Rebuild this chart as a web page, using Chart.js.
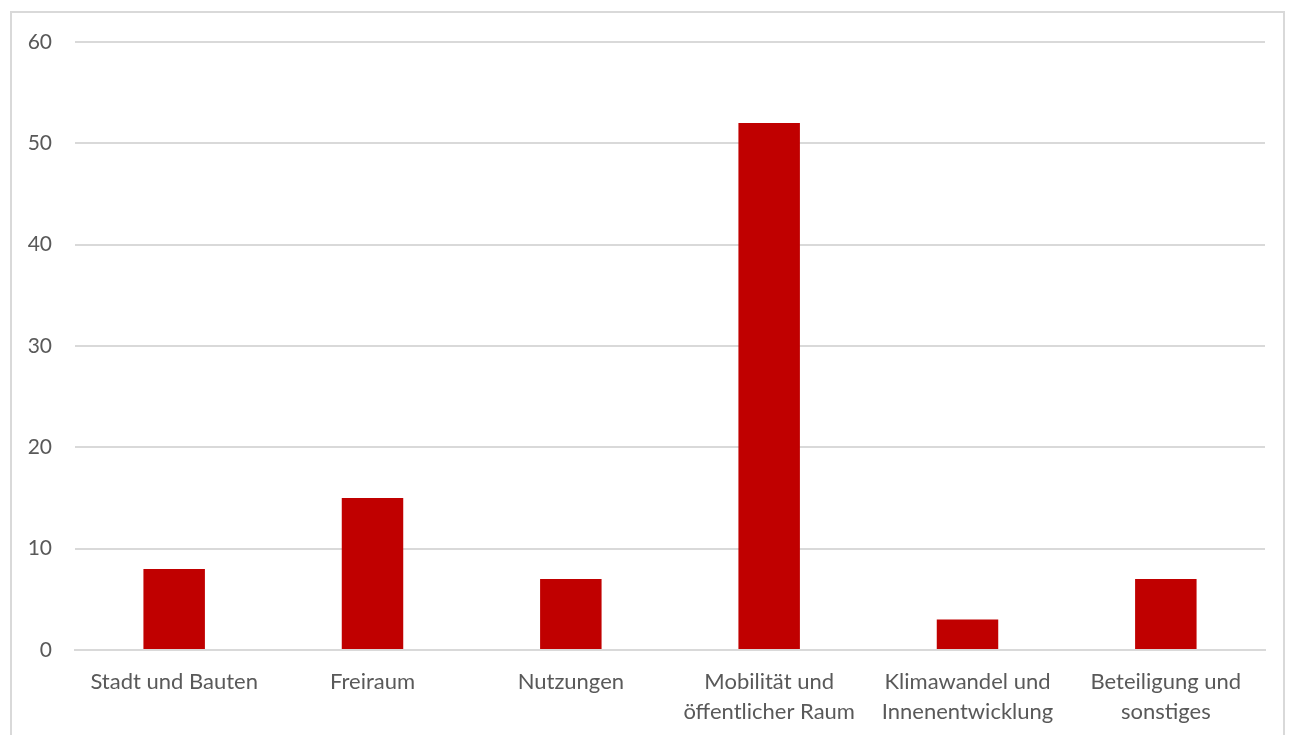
<!DOCTYPE html>
<html>
<head>
<meta charset="utf-8">
<script src="https://cdn.jsdelivr.net/npm/chart.js@4/dist/chart.umd.min.js"></script>
<style>
	html, body { margin: 0; padding: 0; background: #fff; overflow: hidden; }
	#wrap { position: absolute; left: 0; top: 0; width: 1293px; height: 735px; }
	#frame { position: absolute; left: 10px; top: 11px; width: 1271px; height: 740px; border: 2px solid #d9d9d9; pointer-events: none; }
</style>
</head>
<body>
<div id="wrap"><canvas id="myChart" width="1293" height="735"></canvas></div>
<div id="frame"></div>
<script>
let categories = [
	['Stadt und Bauten'],
	['Freiraum'],
	['Nutzungen'],
	['Mobilität und', 'öffentlicher Raum'],
	['Klimawandel und', 'Innenentwicklung'],
	['Beteiligung und', 'sonstiges']
];
let counts = [8, 15, 7, 52, 3, 7];
let yTicks = [0, 10, 20, 30, 40, 50, 60];

const ctx = document.getElementById('myChart');

new Chart(ctx, {
	type: 'bar',
	data: {
		labels: categories,
		datasets: [{
			data: counts,
			backgroundColor: '#c00000',
			categoryPercentage: 1,
			barPercentage: 0.31
		}]
	},
	options: {
		responsive: false,
		animation: false,
		layout: { padding: { top: 42, right: 28, left: 0, bottom: 0 } },
		plugins: { legend: { display: false }, tooltip: { enabled: false } },
		scales: {
			x: {
				grid: { display: false, drawTicks: false },
				border: { color: '#d9d9d9', width: 2 },
				ticks: {
					color: '#595959',
					font: { family: 'Lato', size: 22, lineHeight: 1.36 },
					padding: 17,
					maxRotation: 0,
					autoSkip: false
				},
				afterFit: axis => { axis.height = 85; }
			},
			y: {
				min: 0,
				max: 60,
				afterBuildTicks: axis => { axis.ticks = yTicks.map(v => ({ value: v })); },
				grid: { color: '#d9d9d9', lineWidth: 2, drawTicks: false },
				border: { display: false },
				ticks: {
					color: '#595959',
					font: { family: 'Lato', size: 21 },
					padding: 23
				},
				afterFit: axis => { axis.width = 75; }
			}
		}
	}
});
</script>
</body>
</html>
